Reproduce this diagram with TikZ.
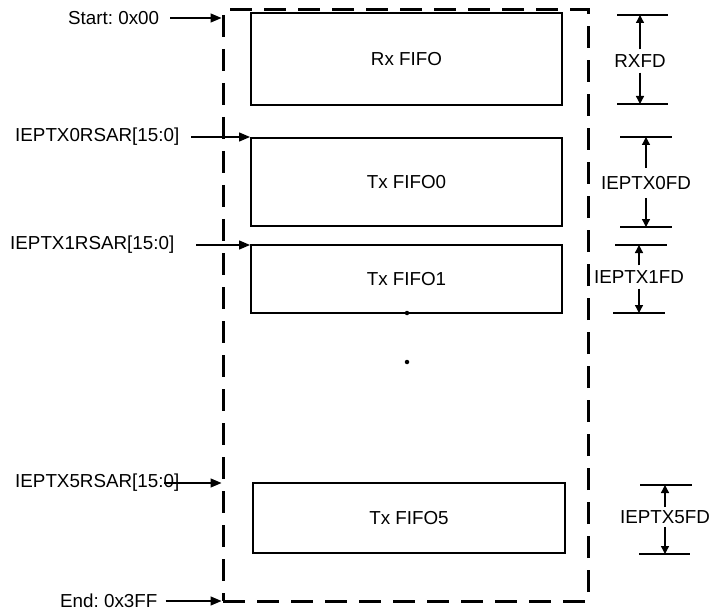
\documentclass[tikz,border=0pt]{standalone}
\usepackage{fontspec}
\setmainfont{Liberation Sans}
\usetikzlibrary{arrows.meta,calc}
\frenchspacing
\begin{document}
\begin{tikzpicture}[x=1pt,y=-1pt,
  every node/.style={font=\fontsize{18.8}{22}\selectfont},
  fifo/.style={draw,line width=2pt,minimum width=311pt,inner sep=0pt},
  memframe/.style={draw,line width=3pt,dash pattern=on 22pt off 12pt,minimum width=365pt,minimum height=591pt,inner sep=0pt},
  lbl/.style={anchor=west,inner sep=0pt},
  ptr/.style={line width=1.3pt,-{Triangle[length=11pt,width=9pt]}},
  dimline/.style={line width=1.3pt},
  dimarr/.style={line width=1.3pt,-{Triangle[length=8pt,width=8pt]}},
  dimlbl/.style={inner xsep=0pt},
  dotnode/.style={circle,fill,inner sep=0pt,minimum size=4.5pt}
]
\useasboundingbox (0,0) rectangle (710,615);

% memory frame
\node[memframe] (mem) at (405.5,305.5) {};

% FIFO boxes
\node[fifo,minimum height=92pt] (rx) at (406.5,59) {Rx FIFO};
\node[fifo,minimum height=88pt] (tx0) at (406.5,182) {Tx FIFO0};
\node[fifo,minimum height=68pt] (tx1) at (406.5,279) {Tx FIFO1};
\node[fifo,minimum width=312pt,minimum height=70pt] (tx5) at (409,518) {Tx FIFO5};

% dots
\node[dotnode] (d1) at (407,313) {};
\node[dotnode] (d2) at (407,362) {};

% left labels
\node[lbl] (start) at (68,18) {Start: 0x00};
\node[lbl] (l0) at (15,137) {IEPTX0RSAR[15:0]};
\node[lbl] (l1) at (10,245) {IEPTX1RSAR[15:0]};
\node[lbl] (l5) at (15,483) {IEPTX5RSAR[15:0]};
\node[lbl] (end) at (60,601) {End: 0x3FF};

\draw[ptr,shorten <=11pt] (start.east) -- (start.east -| mem.west);
\draw[ptr,shorten <=12pt] (l0.east) -- (l0.east -| tx0.west);
\draw[ptr,shorten <=22pt] (l1.east) -- (l1.east -| tx1.west);
\draw[ptr,shorten <=-15pt] (l5.east) -- (l5.east -| mem.west);
\draw[ptr,shorten <=8pt] (end.east) -- (end.east -| mem.west);

% right dimension markers
\coordinate (rxT1) at (617,15);  \coordinate (rxT2) at (668,15);
\coordinate (rxB1) at (617,104); \coordinate (rxB2) at (668,104);
\node[dimlbl,inner ysep=5pt] (rxfd) at (640,61) {RXFD};
\draw[dimline] (rxT1) -- (rxT2);
\draw[dimline] (rxB1) -- (rxB2);
\draw[dimarr] (rxfd.north) -- (rxfd.north |- rxT1);
\draw[dimarr] (rxfd.south) -- (rxfd.south |- rxB1);

\coordinate (t0T1) at (620,137); \coordinate (t0T2) at (672,137);
\coordinate (t0B1) at (620,227); \coordinate (t0B2) at (672,227);
\node[dimlbl,inner ysep=8pt] (t0fd) at (646,183) {IEPTX0FD};
\draw[dimline] (t0T1) -- (t0T2);
\draw[dimline] (t0B1) -- (t0B2);
\draw[dimarr] (t0fd.north) -- (t0fd.north |- t0T1);
\draw[dimarr] (t0fd.south) -- (t0fd.south |- t0B1);

\coordinate (t1T1) at (615,245); \coordinate (t1T2) at (667,245);
\coordinate (t1B1) at (613,313); \coordinate (t1B2) at (665,313);
\node[dimlbl,inner ysep=5pt] (t1fd) at (639,277) {IEPTX1FD};
\draw[dimline] (t1T1) -- (t1T2);
\draw[dimline] (t1B1) -- (t1B2);
\draw[dimarr] (t1fd.north) -- (t1fd.north |- t1T1);
\draw[dimarr] (t1fd.south) -- (t1fd.south |- t1B1);

\coordinate (t5T1) at (640,485); \coordinate (t5T2) at (692,485);
\coordinate (t5B1) at (639,554); \coordinate (t5B2) at (690,554);
\node[dimlbl,inner ysep=3pt] (t5fd) at (665,517) {IEPTX5FD};
\draw[dimline] (t5T1) -- (t5T2);
\draw[dimline] (t5B1) -- (t5B2);
\draw[dimarr] (t5fd.north) -- (t5fd.north |- t5T1);
\draw[dimarr] (t5fd.south) -- (t5fd.south |- t5B1);
\end{tikzpicture}
\end{document}
